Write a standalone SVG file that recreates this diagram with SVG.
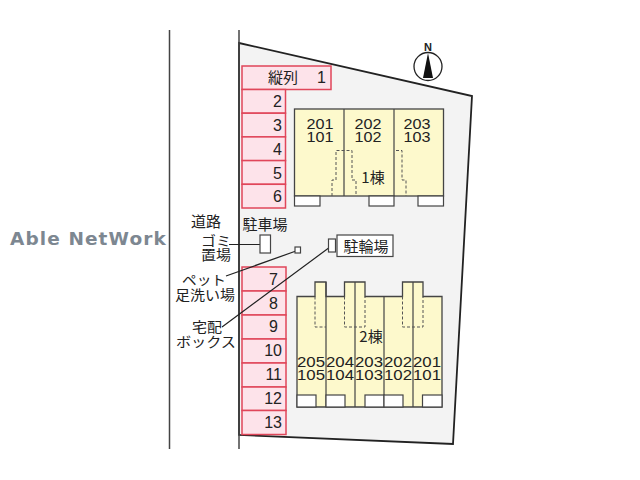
<svg xmlns="http://www.w3.org/2000/svg" width="640" height="480" viewBox="0 0 640 480">
<style>
text{font-family:"Liberation Sans","Noto Sans CJK JP",sans-serif;fill:#222;font-size:16px}
.m{text-anchor:middle}
.u{text-anchor:middle;font-size:14.500px}
.e{text-anchor:end}
.j{font-family:"Noto Sans CJK JP","Liberation Sans",sans-serif;font-size:15px;text-anchor:middle}
.k{font-family:"Noto Sans CJK JP","Liberation Sans",sans-serif;font-size:13.500px;text-anchor:middle}
.p{fill:#fde3ea;stroke:#e0465a;stroke-width:1.5}
.b{fill:#fdf9cc;stroke:#444;stroke-width:1.3}
.w{fill:#fff;stroke:#444;stroke-width:1.2}
.d{fill:none;stroke:#555;stroke-width:1;stroke-dasharray:3 2}
.l{fill:none;stroke:#222;stroke-width:1.2}
</style>
<rect width="640" height="480" fill="#fff"/>
<g id="road"><path d="M169.500 30V449" stroke="#444" stroke-width="1.500" fill="none"/></g>
<g id="site"><path d="M239 43L472 96L453 444L239 435Z" fill="#f3f3f3" stroke="#222" stroke-width="1.800"/><path d="M239 30V449" stroke="#444" stroke-width="1.500" fill="none"/></g>
<g id="watermark"><text x="10" y="245" style="font-family:'DejaVu Sans',sans-serif;font-weight:bold;font-size:18.500px;fill:#7d8791;letter-spacing:1.100px">Able NetWork</text></g>
<g id="north"><circle cx="428" cy="66.500" r="14" fill="#fff" stroke="#222" stroke-width="1.300"/><path d="M428 53L423 78H433Z" fill="#111"/><text x="428" y="51" class="m" style="font-size:11px;font-weight:bold">N</text></g>
<g id="parking-1">
<rect class="p" x="242" y="66" width="89" height="23.500"/><text class="j" x="283" y="83">縦列</text><text class="e" x="326" y="83">1</text>
<rect class="p" x="242" y="89.500" width="43.500" height="23.700"/><text class="e" x="282" y="107">2</text>
<rect class="p" x="242" y="113.200" width="43.500" height="23.700"/><text class="e" x="282" y="131">3</text>
<rect class="p" x="242" y="136.900" width="43.500" height="23.700"/><text class="e" x="282" y="155">4</text>
<rect class="p" x="242" y="160.600" width="43.500" height="23.700"/><text class="e" x="282" y="179">5</text>
<rect class="p" x="242" y="184.300" width="43.500" height="23.700"/><text class="e" x="282" y="202">6</text>
</g>
<g id="parking-2">
<rect class="p" x="242" y="267" width="44" height="24"/><text class="e" x="278" y="285">7</text>
<rect class="p" x="242" y="291" width="44" height="24"/><text class="e" x="278" y="309">8</text>
<rect class="p" x="242" y="315" width="44" height="24"/><text class="e" x="278" y="332">9</text>
<rect class="p" x="242" y="339" width="44" height="24"/><text class="e" x="282" y="356">10</text>
<rect class="p" x="242" y="363" width="44" height="24"/><text class="e" x="282" y="380">11</text>
<rect class="p" x="242" y="387" width="44" height="23.500"/><text class="e" x="282" y="404">12</text>
<rect class="p" x="242" y="410.500" width="44" height="24"/><text class="e" x="282" y="428">13</text>
</g>
<g id="building-1">
<rect class="b" x="294.500" y="109" width="149" height="87"/>
<path d="M344 109V196M394 109V196" stroke="#444" stroke-width="1.200" fill="none"/>
<path class="d" d="M332 196V180H336V150.500H352V180H356V196M396 150.500H402V180H406V196"/>
<rect class="w" x="294.500" y="196" width="25.500" height="10"/><rect class="w" x="369" y="196" width="25" height="10"/><rect class="w" x="418" y="196" width="25.500" height="10"/>
<text class="u" x="320" y="129" textLength="27" lengthAdjust="spacingAndGlyphs">201</text><text class="u" x="320" y="142" textLength="27" lengthAdjust="spacingAndGlyphs">101</text>
<text class="u" x="368" y="129" textLength="27" lengthAdjust="spacingAndGlyphs">202</text><text class="u" x="368" y="142" textLength="27" lengthAdjust="spacingAndGlyphs">102</text>
<text class="u" x="417" y="129" textLength="27" lengthAdjust="spacingAndGlyphs">203</text><text class="u" x="417" y="142" textLength="27" lengthAdjust="spacingAndGlyphs">103</text>
<text class="j" x="373" y="183">1棟</text>
</g>
<g id="building-2">
<path class="b" d="M297 296.500H315V282H326V296.500H344.500V282H365V296.500H402.500V282H423V296.500H442V407H297Z"/>
<path d="M326 282V407M355 282V407M384 296.500V407M413 282V407" stroke="#444" stroke-width="1.200" fill="none"/>
<path class="d" d="M315 296.500V327H326M344.500 296.500V327H365V296.500M402.500 296.500V327H423V296.500"/>
<rect class="w" x="297" y="395" width="19" height="12"/><rect class="w" x="326" y="395" width="19" height="12"/><rect class="w" x="365" y="395" width="19" height="12"/><rect class="w" x="384" y="395" width="19" height="12"/><rect class="w" x="422.500" y="395" width="19.500" height="12"/>
<text class="u" x="311" y="366.500" textLength="28" lengthAdjust="spacingAndGlyphs">205</text><text class="u" x="311" y="380" textLength="28" lengthAdjust="spacingAndGlyphs">105</text>
<text class="u" x="340" y="366.500" textLength="28" lengthAdjust="spacingAndGlyphs">204</text><text class="u" x="340" y="380" textLength="28" lengthAdjust="spacingAndGlyphs">104</text>
<text class="u" x="369" y="366.500" textLength="28" lengthAdjust="spacingAndGlyphs">203</text><text class="u" x="369" y="380" textLength="28" lengthAdjust="spacingAndGlyphs">103</text>
<text class="u" x="398" y="366.500" textLength="28" lengthAdjust="spacingAndGlyphs">202</text><text class="u" x="398" y="380" textLength="28" lengthAdjust="spacingAndGlyphs">102</text>
<text class="u" x="427" y="366.500" textLength="28" lengthAdjust="spacingAndGlyphs">201</text><text class="u" x="427" y="380" textLength="28" lengthAdjust="spacingAndGlyphs">101</text>
<text class="j" x="371" y="342">2棟</text>
</g>
<g id="connectors">
<path class="l" d="M229 244.500H260M226 276L296 251M222 327L330 247"/>
</g>
<g id="facilities">
<rect class="w" x="260" y="235" width="10.500" height="18"/>
<rect class="w" x="295" y="247" width="5.500" height="6"/>
<rect class="w" x="328.500" y="239" width="7" height="13"/>
<rect class="w" x="337" y="235" width="56" height="21.500"/>
</g>
<g id="labels">
<text class="j" x="206" y="227">道路</text>
<text class="j" x="265" y="230">駐車場</text>
<text class="k" x="216" y="246" textLength="30" lengthAdjust="spacingAndGlyphs">ゴミ</text>
<text class="k" x="216" y="260" textLength="30" lengthAdjust="spacingAndGlyphs">置場</text>
<text class="j" x="366" y="252">駐輪場</text>
<text class="k" x="204" y="285" textLength="44" lengthAdjust="spacingAndGlyphs">ペット</text>
<text class="k" x="205" y="300" textLength="60" lengthAdjust="spacingAndGlyphs">足洗い場</text>
<text class="k" x="207" y="332" textLength="30" lengthAdjust="spacingAndGlyphs">宅配</text>
<text class="k" x="206" y="347" textLength="60" lengthAdjust="spacingAndGlyphs">ボックス</text>
</g>
</svg>
